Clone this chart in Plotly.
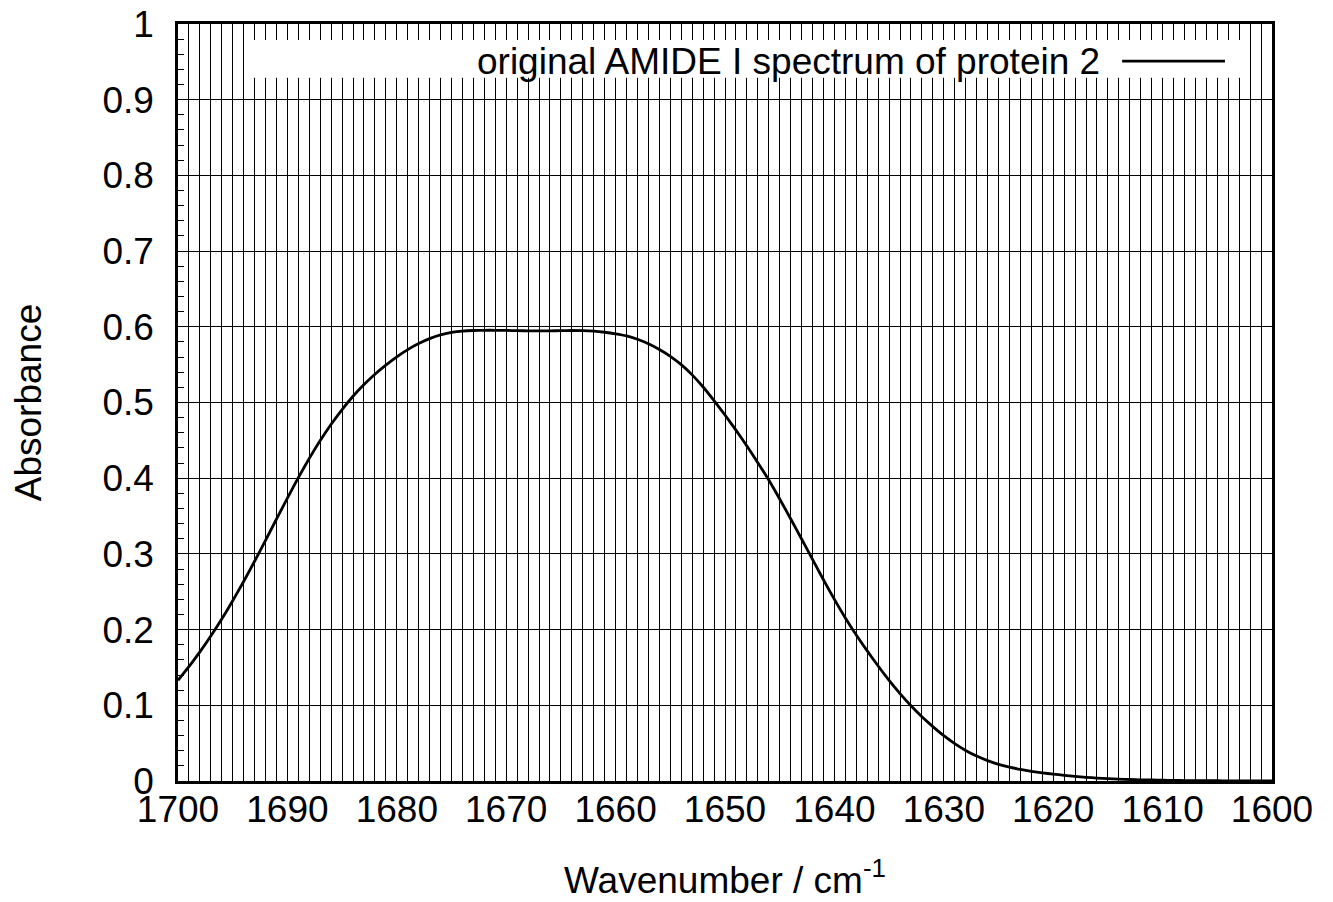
import plotly.graph_objects as go

wavenumber = list(range(1700, 1599, -1))
absorbance = [
    0.1330, 0.1510, 0.1705, 0.1915, 0.2140, 0.2380, 0.2635, 0.2903, 0.3179, 0.3459,  # 1700-1691
    0.3737, 0.4007, 0.4262, 0.4497, 0.4712, 0.4907, 0.5082, 0.5237, 0.5374, 0.5494,  # 1690-1681
    0.5604, 0.5699, 0.5779, 0.5844, 0.5893, 0.5925, 0.5943, 0.5951, 0.5954, 0.5954,  # 1680-1671
    0.5952, 0.5949, 0.5947, 0.5946, 0.5947, 0.5949, 0.5951, 0.5949, 0.5942, 0.5928,  # 1670-1661
    0.5908, 0.5880, 0.5835, 0.5775, 0.5700, 0.5610, 0.5500, 0.5365, 0.5205, 0.5025,  # 1660-1651
    0.4835, 0.4635, 0.4425, 0.4205, 0.3975, 0.3725, 0.3465, 0.3197, 0.2927, 0.2659,  # 1650-1641
    0.2399, 0.2154, 0.1929, 0.1719, 0.1519, 0.1329, 0.1154, 0.0994, 0.0849, 0.0719,  # 1640-1631
    0.0599, 0.0494, 0.0404, 0.0329, 0.0269, 0.0219, 0.0182, 0.0152, 0.0127, 0.0107,  # 1630-1621
    0.0091, 0.0075, 0.0061, 0.0049, 0.0039, 0.0031, 0.0025, 0.0020, 0.0016, 0.0013,  # 1620-1611
    0.0010, 0.0008, 0.0006, 0.0005, 0.0004, 0.0003, 0.0002, 0.0002, 0.0001, 0.0001,  # 1610-1601
    0.0001,  # 1600
]
series_name = "original AMIDE I spectrum of protein 2"
x_ticks = list(range(1700, 1599, -10))
y_ticks = [round(0.1 * i, 1) for i in range(11)]
y_tick_text = ["0"] + [f"{v:g}" for v in y_ticks[1:-1]] + ["1"]

FONT = "Liberation Sans, Arial, Helvetica, sans-serif"
FS = 37

fig = go.Figure()
fig.add_trace(go.Scatter(
    x=wavenumber, y=absorbance, mode="lines", name=series_name,
    line=dict(color="black", width=2.8, shape="spline", smoothing=0.5),
    showlegend=False,
))

# opaque key box (gnuplot style: text left, line sample right)
fig.add_shape(type="rect", xref="paper", yref="paper",
              x0=0.061, x1=0.971, y0=0.929, y1=0.979,
              fillcolor="white", line=dict(width=0), layer="above")
fig.add_shape(type="line", xref="paper", yref="paper",
              x0=0.863, x1=0.957, y0=0.951, y1=0.951,
              line=dict(color="black", width=2.8), layer="above")
fig.add_annotation(text=series_name, xref="paper", yref="paper",
                   x=0.845, y=0.951, xanchor="right", yanchor="middle",
                   showarrow=False, font=dict(size=FS, color="black", family=FONT))

fig.update_layout(
    width=1325, height=894,
    margin=dict(l=170, r=61, t=16, b=121, autoexpand=False),
    paper_bgcolor="white", plot_bgcolor="white",
    font=dict(family=FONT, size=FS, color="black"),
    xaxis=dict(
        range=[1700, 1600], autorange=False, automargin=False,
        tickmode="array", tickvals=x_ticks, ticktext=[str(v) for v in x_ticks],
        ticks="inside", ticklen=9, tickwidth=1, tickcolor="black",
        showline=True, linecolor="black", linewidth=2.5, mirror=True,
        showgrid=True, gridcolor="black", gridwidth=1,
        minor=dict(dtick=1, showgrid=True, gridcolor="black", gridwidth=1),
        zeroline=False,
        ticklabelstandoff=-6, ticklabeloverflow="allow",
        title=dict(text="Wavenumber / cm<sup>-1</sup>", font=dict(size=FS), standoff=38),
    ),
    yaxis=dict(
        range=[0, 1], autorange=False, automargin=False,
        tickmode="array", tickvals=y_ticks, ticktext=y_tick_text,
        ticks="inside", ticklen=9, tickwidth=1, tickcolor="black",
        showline=True, linecolor="black", linewidth=2.5, mirror=True,
        showgrid=True, gridcolor="black", gridwidth=1,
        minor=dict(dtick=0.02, ticks="inside", ticklen=6, tickcolor="black", showgrid=False),
        zeroline=False,
        ticklabelstandoff=14, ticklabeloverflow="allow",
        title=dict(text="Absorbance", font=dict(size=FS), standoff=62),
    ),
)

fig.write_html("out.html")
